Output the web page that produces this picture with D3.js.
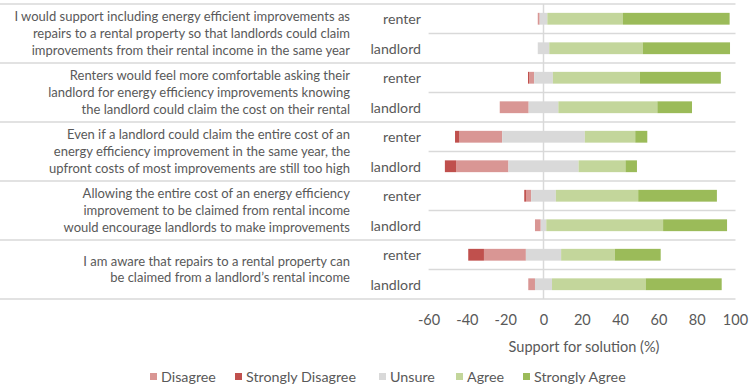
<!DOCTYPE html>
<html><head><meta charset="utf-8">
<script src="https://cdn.jsdelivr.net/npm/d3@7"></script>
<style>body{margin:0;background:#fff}svg{display:block}</style>
</head><body>
<svg id="chart" width="754" height="391"></svg>
<script>
// ---------- data ----------
const questions = [
  ["I would support including energy efficient improvements as","repairs to a rental property so that landlords could claim","improvements from their rental income in the same year"],
  ["Renters would feel more comfortable asking their","landlord for energy efficiency improvements knowing","the landlord could claim the cost on their rental"],
  ["Even if a landlord could claim the entire cost of an","energy efficiency improvement in the same year, the","upfront costs of most improvements are still too high"],
  ["Allowing the entire cost of an energy efficiency","improvement to be claimed from rental income","would encourage landlords to make improvements"],
  ["I am aware that repairs to a rental property can","be claimed from a landlord\u2019s rental income"]
];
const respondents = ["renter", "landlord"];
const seriesNames = ["Disagree", "Strongly Disagree", "Unsure", "Agree", "Strongly Agree"];
// rows: q1 renter, q1 landlord, q2 renter, q2 landlord, ...
const disagree         = [1.0, 0.0, 2.6, 15.1, 22.5, 27.3, 2.7, 3.0, 21.9, 3.5];
const stronglyDisagree = [0.0, 0.0, 0.6, 0.0,  2.1,  5.9,  0.9, 0.0, 8.2,  0.0];
const unsure           = [4.0, 6.0, 9.8, 15.5, 43.2, 36.6, 12.9, 2.9, 18.4, 8.9];
const agree            = [39.5, 48.8, 45.4, 51.7, 26.3, 24.5, 43.0, 61.0, 28.0, 48.9];
const stronglyAgree    = [55.7, 45.6, 42.3, 18.1, 6.3, 6.0, 41.1, 33.4, 24.0, 39.7];
const xTicks = [-60, -40, -20, 0, 20, 40, 60, 80, 100];
const xTitle = "Support for solution (%)";

// ---------- style ----------
const colors = {"Disagree":"#D99694","Strongly Disagree":"#C0504D","Unsure":"#D9D9D9","Agree":"#C3D69B","Strongly Agree":"#9BBB59"};
const textColor = "#595959";
const gridColor = "#D9D9D9";
const FONT = "Lato, 'Open Sans', sans-serif";

const svg = d3.select("#chart");

// calibrate font sizes so sample strings match the reference widths
function fit(str, target) {
  const p = svg.append("text").attr("font-family", FONT).attr("font-size", 100).text(str);
  const w = p.node().getComputedTextLength();
  p.remove();
  return Math.min(16, 100 * target / w);
}
const fsQ = fit(questions[0][0], 336);
const fsCat = fit("landlord", 50.5);
const fsAxis = fit(xTitle, 151);
const fsLeg = fit("Strongly Disagree", 110);

const plotLeft = 428.6, plotRight = 735.5, plotTop = 4, plotBottom = 299;
const x = d3.scaleLinear().domain([-60, 100]).range([plotLeft, 735]);
const nRows = questions.length * respondents.length;
const y = d3.scaleBand().domain(d3.range(nRows)).range([plotTop, plotBottom]).paddingInner(0.6).paddingOuter(0.3);
const step = y.step();

// build segments
const rows = d3.range(nRows).map(i => {
  const u = unsure[i], d = disagree[i], sd = stronglyDisagree[i], a = agree[i], sa = stronglyAgree[i];
  const L = -u / 2, R = u / 2;
  return [
    {s: "Disagree", x0: L - d, x1: L, i},
    {s: "Strongly Disagree", x0: L - d - sd, x1: L - d, i},
    {s: "Unsure", x0: L, x1: R, i},
    {s: "Agree", x0: R, x1: R + a, i},
    {s: "Strongly Agree", x0: R + a, x1: R + a + sa, i}
  ];
});

// gridlines
const g = svg.append("g");
for (let k = 0; k <= nRows; k++) {
  const yy = plotTop + k * step;
  g.append("line").attr("x1", k % 2 === 0 ? 0 : plotLeft).attr("x2", plotRight)
    .attr("y1", yy).attr("y2", yy).attr("stroke", gridColor).attr("stroke-width", 1.5);
}
g.append("line").attr("x1", x(0)).attr("x2", x(0)).attr("y1", plotTop).attr("y2", plotBottom)
  .attr("stroke", gridColor).attr("stroke-width", 1.5);

// bars
svg.append("g").selectAll("g").data(rows).join("g")
  .selectAll("rect").data(d => d.filter(s => s.x1 - s.x0 > 0)).join("rect")
  .attr("x", d => x(d.x0)).attr("width", d => x(d.x1) - x(d.x0))
  .attr("y", d => y(d.i)).attr("height", y.bandwidth())
  .attr("fill", d => colors[d.s]);

// category labels
const lab = svg.append("g").attr("font-family", FONT).attr("fill", textColor);
d3.range(nRows).forEach(i => {
  lab.append("text").attr("x", 421).attr("y", y(i) + y.bandwidth() / 2 + (i % 2 ? 1 : 0)).attr("dy", "0.35em")
    .attr("text-anchor", "end").attr("font-size", fsCat).text(respondents[i % 2]);
});
questions.forEach((lines, q) => {
  const cy = plotTop + step * (2 * q + 1);
  const lh = 16.8;
  lines.forEach((t, k) => {
    lab.append("text").attr("x", 350).attr("y", cy + (k - (lines.length - 1) / 2) * lh).attr("dy", "0.35em")
      .attr("text-anchor", "end").attr("font-size", fsQ).text(t);
  });
});

// x axis (labels only)
const ax = svg.append("g").attr("transform", `translate(0,${plotBottom})`)
  .call(d3.axisBottom(x).tickValues(xTicks).tickSize(0).tickFormat(d => String(d)));
ax.select(".domain").remove();
ax.selectAll("text").attr("font-family", FONT).attr("font-size", fsAxis).attr("fill", textColor).attr("dy", "0.35em").attr("y", 21);

svg.append("text").attr("x", (plotLeft + plotRight) / 2 + 2).attr("y", 347).attr("dy", "0.35em")
  .attr("text-anchor", "middle").attr("font-family", FONT).attr("font-size", fsAxis).attr("fill", textColor).text(xTitle);

// legend
const legendX = [150, 235, 379, 456, 523];
const leg = svg.append("g").attr("font-family", FONT).attr("font-size", fsLeg).attr("fill", textColor);
seriesNames.forEach((s, k) => {
  leg.append("rect").attr("x", legendX[k]).attr("y", 373).attr("width", 7).attr("height", 7).attr("fill", colors[s]);
  leg.append("text").attr("x", legendX[k] + 11).attr("y", 377).attr("dy", "0.35em").text(s);
});
</script>
</body></html>
